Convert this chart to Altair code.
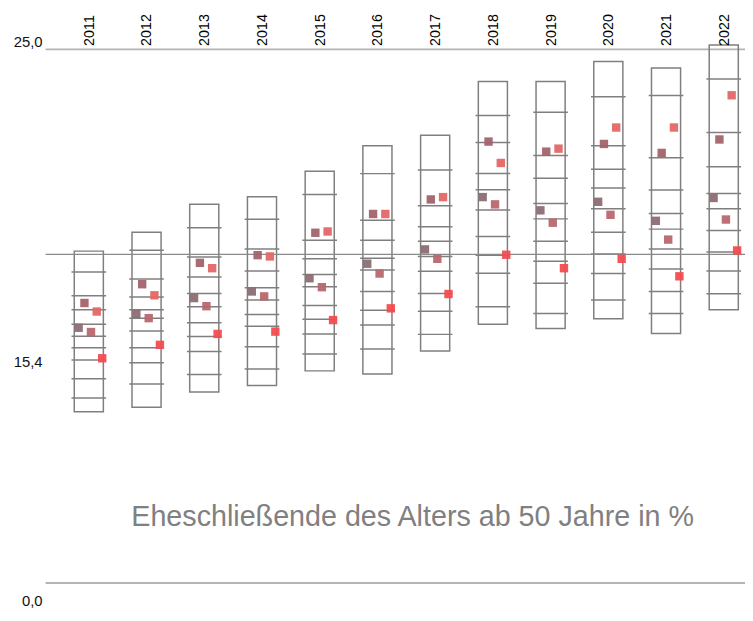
import altair as alt
import pandas as pd

# ---------------- data ----------------
years = [2011, 2012, 2013, 2014, 2015, 2016, 2017, 2018, 2019, 2020, 2021, 2022]

box_top = [15.55, 16.43, 17.74, 18.10, 19.29, 20.49, 20.98, 23.50, 23.50, 24.43, 24.13, 25.20]
box_bottom = [8.03, 8.24, 8.95, 9.26, 9.94, 9.79, 10.87, 12.12, 11.92, 12.38, 11.69, 12.80]

box_ticks = [
    [14.57, 13.46, 12.80, 12.12, 11.56, 11.02, 10.45, 9.57, 8.67],
    [15.59, 14.24, 13.40, 12.80, 12.40, 11.81, 11.02, 10.32, 9.32],
    [16.65, 15.27, 14.34, 13.57, 12.94, 12.20, 11.55, 10.85, 9.77],
    [17.04, 15.65, 14.62, 13.83, 13.26, 12.58, 12.03, 11.07, 10.03],
    [18.20, 16.06, 15.19, 14.45, 13.88, 13.00, 12.36, 11.67, 10.73],
    [19.18, 17.00, 16.06, 15.22, 14.67, 13.66, 12.78, 12.09, 10.96],
    [19.35, 17.68, 16.69, 16.01, 15.30, 14.61, 13.57, 12.73, 11.65],
    [21.90, 20.64, 19.19, 18.42, 17.48, 16.23, 15.36, 14.51, 12.94],
    [22.05, 20.03, 18.96, 17.78, 17.06, 16.01, 15.07, 14.05, 12.63],
    [22.78, 20.49, 19.39, 18.51, 17.53, 16.43, 15.41, 14.50, 13.26],
    [22.84, 19.92, 18.41, 17.31, 16.58, 15.65, 14.71, 13.66, 12.63],
    [23.61, 21.11, 19.50, 18.25, 17.53, 16.52, 15.51, 14.62, 13.55],
]

series_names = ["Reihe 1", "Reihe 2", "Reihe 3", "Reihe 4", "Reihe 5"]
s1 = [11.96, 12.61, 13.35, 13.66, 14.28, 14.96, 15.63, 18.08, 17.46, 17.86, 16.97, 18.04]
s2 = [13.12, 14.00, 15.00, 15.36, 16.41, 17.29, 17.97, 20.68, 20.21, 20.57, 20.15, 20.78]
s3 = [11.76, 12.41, 12.97, 13.43, 13.86, 14.50, 15.19, 17.74, 16.88, 17.25, 16.09, 17.03]
s4 = [12.72, 13.48, 14.75, 15.30, 16.47, 17.29, 18.08, 19.68, 20.35, 21.34, 21.34, 22.85]
s5 = [10.53, 11.16, 11.67, 11.78, 12.32, 12.87, 13.54, 15.38, 14.75, 15.19, 14.37, 15.58]
series_values = [s1, s2, s3, s4, s5]

ref_values = [25.0, 15.4, 0.0]
ref_labels = ["25,0", "15,4", "0,0"]
title_text = "Eheschließende des Alters ab 50 Jahre in %"

# ---------------- styles ----------------
W, H = 745, 613
FONT = "Liberation Sans"
GRAY = "#7f7f7f"
series_colors = ["#8c6e74", "#a3626c", "#b8686f", "#e46767", "#f24c50"]
series_offsets = [-0.1765, -0.0754, 0.0377, 0.137, 0.2314]   # in year units
box_half = 0.252
tick_half = 0.30
label_dy = [-7, 109, 18]

xscale = alt.Scale(domain=[2009.6, 2022.368], nice=False, zero=False)
yscale = alt.Scale(domain=[-1.622, 26.784], nice=False, zero=False)

# ---------------- tables ----------------
boxes = pd.DataFrame({
    "year": years,
    "x1": [y - box_half for y in years],
    "x2": [y + box_half for y in years],
    "top": box_top,
    "bottom": box_bottom,
})

tick_rows = []
for yr, ts in zip(years, box_ticks):
    for t in ts:
        tick_rows.append({"year": yr, "x1": yr - tick_half, "x2": yr + tick_half, "v": t})
ticks = pd.DataFrame(tick_rows)

pt_rows = []
for name, vals, off in zip(series_names, series_values, series_offsets):
    for yr, v in zip(years, vals):
        pt_rows.append({"series": name, "year": yr, "xp": yr + off, "v": v})
points = pd.DataFrame(pt_rows)

refs = pd.DataFrame({"v": ref_values, "label": ref_labels})
year_df = pd.DataFrame({"year": years, "label": [str(y) for y in years]})

# ---------------- layers ----------------
top_bottom = alt.Chart(refs[refs.v != 15.4]).mark_rule(color="#b4b4b4", strokeWidth=2).encode(
    y=alt.Y("v:Q", scale=yscale, axis=None),
    x=alt.value(38), x2=alt.value(W),
)
middle = alt.Chart(refs[refs.v == 15.4]).mark_rule(color="#8a8a8a", strokeWidth=1.2).encode(
    y=alt.Y("v:Q", scale=yscale, axis=None),
    x=alt.value(38), x2=alt.value(W),
)

box_layer = alt.Chart(boxes).mark_rect(fill="white", fillOpacity=0, stroke=GRAY, strokeWidth=1.5).encode(
    x=alt.X("x1:Q", scale=xscale, axis=None), x2="x2:Q",
    y=alt.Y("top:Q", scale=yscale, axis=None), y2="bottom:Q",
)

tick_layer = alt.Chart(ticks).mark_rule(color=GRAY, strokeWidth=1.5).encode(
    x=alt.X("x1:Q", scale=xscale, axis=None), x2="x2:Q",
    y=alt.Y("v:Q", scale=yscale, axis=None),
)

pts = alt.Chart(points).mark_square(size=72, opacity=0.95, filled=True).encode(
    x=alt.X("xp:Q", scale=xscale, axis=None),
    y=alt.Y("v:Q", scale=yscale, axis=None),
    color=alt.Color("series:N", scale=alt.Scale(domain=series_names, range=series_colors), legend=None),
)

year_text = alt.Chart(year_df).mark_text(
    angle=270, align="left", baseline="middle", font=FONT, fontSize=14.5, color="#000000", dy=1
).encode(
    x=alt.X("year:Q", scale=xscale, axis=None),
    y=alt.value(35),
    text="label:N",
)

label_layers = []
for v, lab, dy in zip(ref_values, ref_labels, label_dy):
    label_layers.append(
        alt.Chart(pd.DataFrame({"v": [v], "label": [lab]})).mark_text(
            align="right", baseline="middle", font=FONT, fontSize=15, color="#111111", dy=dy
        ).encode(
            y=alt.Y("v:Q", scale=yscale, axis=None),
            x=alt.value(35),
            text="label:N",
        )
    )

title_layer = alt.Chart(pd.DataFrame({"t": [title_text]})).mark_text(
    align="center", baseline="middle", font=FONT, fontSize=29, color="#808080"
).encode(x=alt.value(409), y=alt.value(511), text="t:N")

chart = alt.layer(
    top_bottom, box_layer, tick_layer, middle, pts, year_text, *label_layers, title_layer
).properties(
    width=W, height=H, padding=0, autosize=alt.AutoSizeParams(type="none")
).configure_view(stroke=None)

chart.save("out.html", embed_options={"renderer": "svg", "actions": False})
